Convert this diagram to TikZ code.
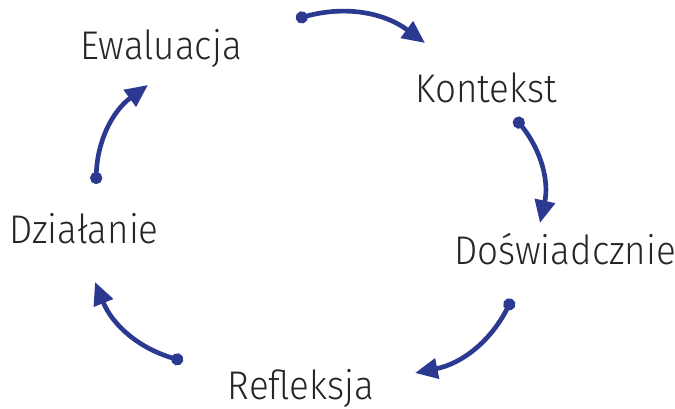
\documentclass[tikz,border=0pt]{standalone}
\usepackage{fontspec}
\setmainfont{Fira Sans Light}[FakeStretch=0.92]
\usetikzlibrary{arrows.meta}

\definecolor{cycleblue}{RGB}{43,57,144}

\tikzset{
    stage/.style={inner sep=0pt, anchor=base, font=\fontsize{30}{32}\selectfont, text=black!85},
    cyclearrow/.style={cycleblue, line width=3.5pt, bend left=26,
        {Circle[length=9pt]}-{Triangle[length=17pt,width=15pt]}}
}

\begin{document}
\begin{tikzpicture}[x=0.75pt,y=0.75pt]

    % Frame of the picture
    \useasboundingbox (0,0) rectangle (675,409);

    % The five stages
    \node[stage] (ewaluacja) at (161,349) {Ewaluacja};
    \node[stage] (kontekst) at (486,306) {Kontekst};
    \node[stage] (doswiadczenie) at (565,144) {Doświadcznie};
    \node[stage] (refleksja) at (301,9) {Refleksja};
    \node[stage] (dzialanie) at (84,165) {Działanie};

    % Arrow ends
    \coordinate (a1s) at (296,390);
    \coordinate (a1e) at (425,366);
    \coordinate (a2s) at (515,291);
    \coordinate (a2e) at (540,186);
    \coordinate (a3s) at (512,110);
    \coordinate (a3e) at (415,36);
    \coordinate (a4s) at (183,48);
    \coordinate (a4e) at (95,127);
    \coordinate (a5s) at (96,225);
    \coordinate (a5e) at (148,324);

    % Arrows round the cycle
    \draw[cyclearrow] (a1s) to (a1e);
    \draw[cyclearrow] (a2s) to (a2e);
    \draw[cyclearrow] (a3s) to (a3e);
    \draw[cyclearrow] (a4s) to (a4e);
    \draw[cyclearrow] (a5s) to (a5e);

\end{tikzpicture}
\end{document}
